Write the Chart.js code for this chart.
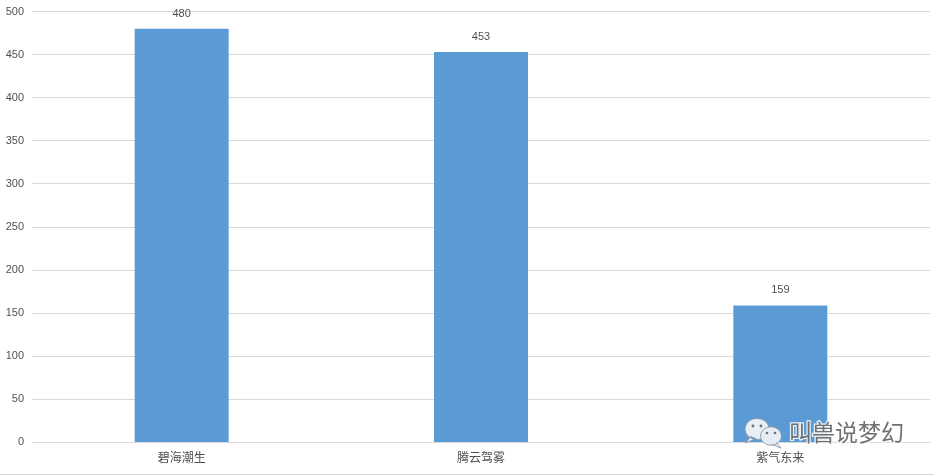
<!DOCTYPE html>
<html>
<head>
<meta charset="utf-8">
<style>
  html, body { margin: 0; padding: 0; background: #fff; }
  #wrap { position: relative; width: 934px; height: 475px; overflow: hidden; }
  #rule { position: absolute; left: 0; top: 474px; width: 934px; height: 1px; background: #d9d9d9; }
</style>
<script src="https://cdn.jsdelivr.net/npm/chart.js@4"></script>
</head>
<body>
<div id="wrap">
  <canvas id="chart" width="934" height="475"></canvas>
  <div id="rule"></div>
</div>
<script>
const categories = ["碧海潮生", "腾云驾雾", "紫气东来"];
const values = [480, 453, 159];
const watermark = "叫兽说梦幻";
const cjkFont = '"Noto Sans CJK SC", sans-serif';
const latinFont = '"Liberation Sans", sans-serif';

// numbers above the bars
const barLabels = {
    id: "barLabels",
    afterDatasetsDraw(chart) {
        const ctx = chart.ctx;
        ctx.save();
        ctx.font = "11px " + latinFont;
        ctx.fillStyle = "#505050";
        ctx.textAlign = "center";
        ctx.textBaseline = "middle";
        chart.getDatasetMeta(0).data.forEach((bar, i) => {
            ctx.fillText(values[i], bar.x, bar.y - 15);
        });
        ctx.restore();
    }
};

function bubble(ctx, x, y, r, fill, tailDir) {
    ctx.beginPath();
    ctx.ellipse(x, y, r, r * 0.88, 0, 0, Math.PI * 2);
    ctx.moveTo(x + tailDir * r * 0.5, y + r * 0.6);
    ctx.lineTo(x + tailDir * r * 0.95, y + r * 1.15);
    ctx.lineTo(x + tailDir * r * 0.05, y + r * 0.8);
    ctx.fillStyle = fill;
    ctx.fill();
    ctx.strokeStyle = "#8a9098";
    ctx.lineWidth = 0.8;
    ctx.stroke();
}

// wechat style mark in the corner
const stamp = {
    id: "stamp",
    afterDraw(chart) {
        const ctx = chart.ctx;
        ctx.save();
        bubble(ctx, 757, 429, 12, "#e9eff6", -1);
        ctx.fillStyle = "#6b7078";
        [[753, 426], [761, 426]].forEach(p => {
            ctx.beginPath(); ctx.arc(p[0], p[1], 1.4, 0, Math.PI * 2); ctx.fill();
        });
        bubble(ctx, 771, 436, 10.5, "#e4edf6", 1);
        ctx.fillStyle = "#6b7078";
        [[767, 433], [775, 433]].forEach(p => {
            ctx.beginPath(); ctx.arc(p[0], p[1], 1.3, 0, Math.PI * 2); ctx.fill();
        });
        ctx.font = "23px " + cjkFont;
        ctx.textAlign = "left";
        ctx.textBaseline = "middle";
        ctx.lineWidth = 2.5;
        ctx.strokeStyle = "rgba(255,255,255,0.85)";
        ctx.strokeText(watermark, 789, 432);
        ctx.fillStyle = "#707070";
        ctx.fillText(watermark, 789, 432);
        ctx.restore();
    }
};

new Chart(document.getElementById("chart"), {
    type: "bar",
    data: {
        labels: categories,
        datasets: [{
            data: values,
            backgroundColor: "#5b9bd5",
            categoryPercentage: 1,
            barPercentage: 0.314
        }]
    },
    options: {
        responsive: false,
        animation: false,
        layout: { padding: { top: 11.6, right: 4, bottom: 0, left: 0 } },
        plugins: { legend: { display: false }, tooltip: { enabled: false } },
        scales: {
            x: {
                grid: { display: false },
                border: { color: "#d9d9d9" },
                ticks: {
                    color: "#505050",
                    font: { family: cjkFont, size: 12 },
                    padding: 0,
                    maxRotation: 0
                },
                afterFit(scale) { scale.height = 32.6; }
            },
            y: {
                min: 0,
                max: 500,
                grid: { color: "#d9d9d9", drawTicks: false },
                border: { display: false },
                ticks: {
                    stepSize: 50,
                    color: "#505050",
                    font: { family: latinFont, size: 11 },
                    padding: 8
                },
                // drop the label padding so the top gridline can sit at 11px
                afterFit(scale) { scale.width = 32; scale.paddingTop = 0; scale.paddingBottom = 0; }
            }
        }
    },
    plugins: [barLabels, stamp]
});
</script>
</body>
</html>
